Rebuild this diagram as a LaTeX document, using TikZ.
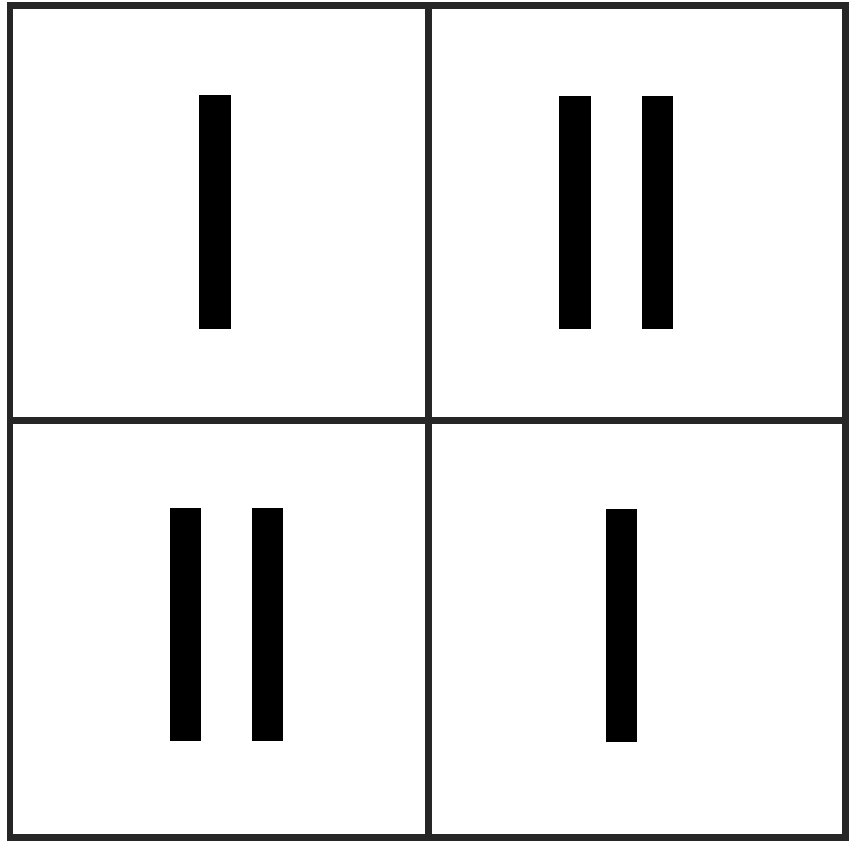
\documentclass[tikz,border=0pt]{standalone}
\begin{document}
\begin{tikzpicture}[
  x=0.02cm, y=-0.02cm,
  frame/.style={draw=black!85, line width=0.14cm},
  bar/.style={fill=black}
]
  \useasboundingbox (0, 0) rectangle (853, 841);
  % grid
  \draw[frame] (10, 6) rectangle (845, 837);
  \draw[frame] (428, 6) -- (428, 837);
  \draw[frame] (10, 421) -- (845, 421);

  % top left
  \fill[bar] (199, 95) rectangle (231, 329);
  % top right
  \fill[bar] (559, 96) rectangle (591, 329);
  \fill[bar] (642, 96) rectangle (673, 329);
  % bottom left
  \fill[bar] (170, 508) rectangle (201, 741);
  \fill[bar] (252, 508) rectangle (283, 741);
  % bottom right
  \fill[bar] (606, 509) rectangle (637, 742);
\end{tikzpicture}
\end{document}
